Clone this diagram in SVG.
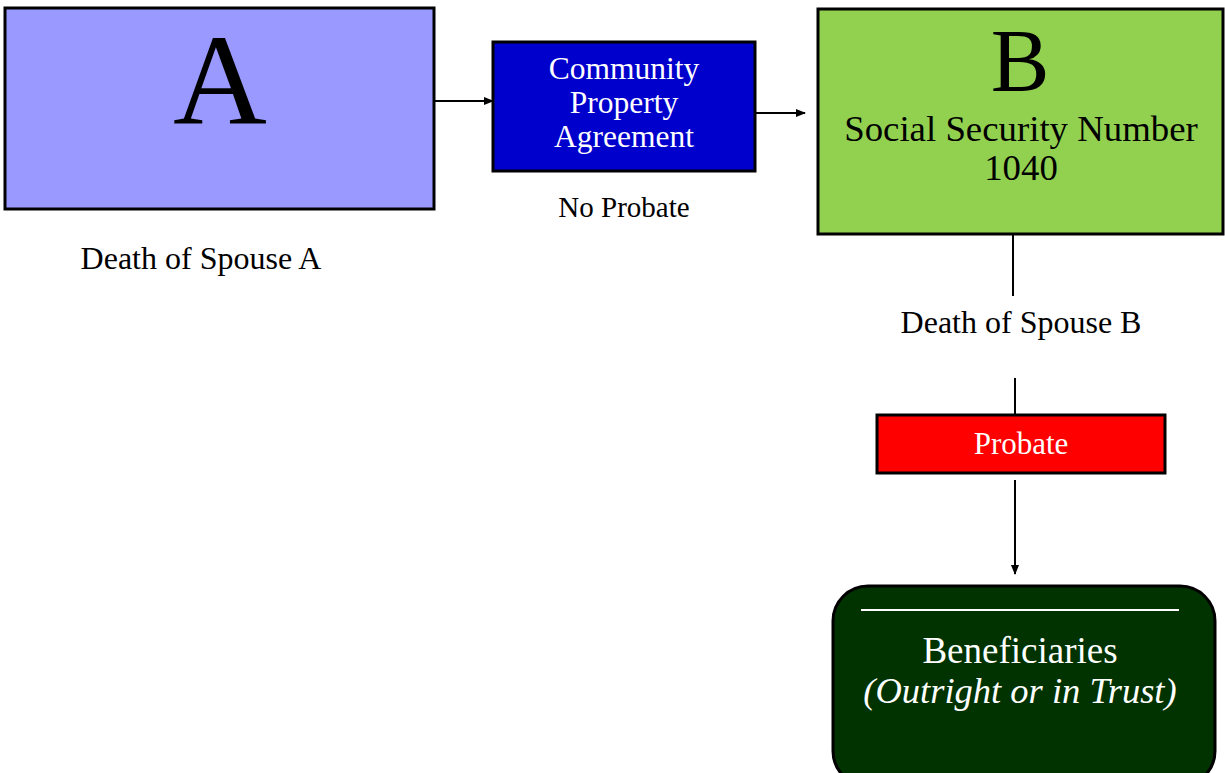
<svg xmlns="http://www.w3.org/2000/svg" width="1225" height="773" viewBox="0 0 1225 773">
<style>
text{font-family:"Liberation Serif","Times New Roman",serif;text-anchor:middle}
.box{stroke:#000;stroke-width:3}
.wire{stroke:#000;stroke-width:2;fill:none}
.w{fill:#fff}
</style>
<defs>
<marker id="ah" markerWidth="10" markerHeight="8" refX="9" refY="4" orient="auto" markerUnits="userSpaceOnUse">
<path d="M0,0 L10,4 L0,8 Z" fill="#000"/>
</marker>
</defs>
<rect width="1225" height="773" fill="#fff"/>
<g id="nodeA">
<rect class="box" x="5" y="8" width="429" height="201" fill="#9999FF"/>
<text x="220" y="124" font-size="130">A</text>
</g>
<text x="201" y="269" font-size="32">Death of Spouse A</text>
<g id="nodeCPA">
<rect class="box" x="493" y="42" width="262" height="129" fill="#0000CC"/>
<text class="w" x="624" y="79" font-size="31.5">Community</text>
<text class="w" x="624" y="113" font-size="31.5">Property</text>
<text class="w" x="624" y="147" font-size="31.5">Agreement</text>
</g>
<text x="624" y="217" font-size="29">No Probate</text>
<g id="nodeB">
<rect class="box" x="818" y="9" width="405" height="225" fill="#92D050"/>
<text x="1020" y="90" font-size="88">B</text>
<text x="1021" y="141" font-size="36.8">Social Security Number</text>
<text x="1021" y="180" font-size="36.8">1040</text>
</g>
<text x="1021" y="333" font-size="32">Death of Spouse B</text>
<g id="nodeProbate">
<rect class="box" x="877" y="415" width="288" height="58" fill="#FF0000"/>
<text class="w" x="1021" y="454" font-size="31">Probate</text>
</g>
<g id="nodeBen">
<rect class="box" x="833" y="586" width="382" height="200" rx="35" fill="#003300"/>
<line x1="861" y1="610" x2="1179" y2="610" stroke="#fff" stroke-width="2"/>
<text class="w" x="1020" y="663" font-size="37">Beneficiaries</text>
<text class="w" x="1020" y="703" font-size="36.5" font-style="italic">(Outright or in Trust)</text>
</g>
<g id="connectors">
<line class="wire" x1="435" y1="101" x2="493" y2="101" marker-end="url(#ah)"/>
<line class="wire" x1="756" y1="113" x2="805" y2="113" marker-end="url(#ah)"/>
<line class="wire" x1="1013" y1="235" x2="1013" y2="296"/>
<line class="wire" x1="1015" y1="378" x2="1015" y2="414"/>
<line class="wire" x1="1015" y1="480" x2="1015" y2="574" marker-end="url(#ah)"/>
</g>
</svg>
